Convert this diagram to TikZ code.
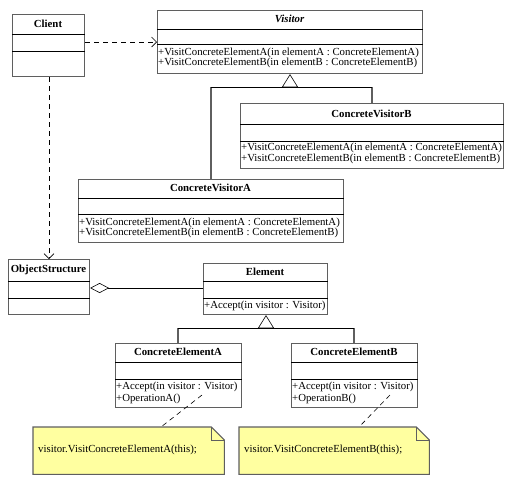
\documentclass[tikz,border=0pt]{standalone}
\usepackage{fontspec}
\setmainfont{Liberation Serif}
\usetikzlibrary{arrows.meta}
\definecolor{boxline}{RGB}{95,95,95}
\definecolor{notefill}{RGB}{255,255,160}
\tikzset{
  classbox/.style={draw=boxline, line width=1.1pt, fill=white, anchor=north west, inner sep=0pt},
  divider/.style={draw=black, line width=0.5pt},
  ctitle/.style={font=\fontsize{10.8}{10.8}\selectfont\bfseries, inner sep=0pt},
  cops/.style={font=\fontsize{10.8}{10.8}\selectfont, anchor=west, inner sep=0pt},
  notebox/.style={anchor=north west, inner sep=0pt},
  noteshape/.style={draw=boxline, line width=1.1pt, fill=notefill},
  dep/.style={dashed, dash pattern=on 5pt off 4pt, line width=0.6pt, -{Straight Barb[length=5pt,width=10pt]}},
  notelink/.style={dashed, dash pattern=on 5pt off 4pt, line width=0.6pt},
  vline/.style={draw=boxline, line width=1.1pt},
  hline/.style={draw=black, line width=0.6pt},
  gen/.style={line width=0.6pt, -{Triangle[open,length=13pt,width=16pt]}},
  agg/.style={line width=0.6pt, -{Diamond[open,length=19pt,width=10pt]}}
}
\begin{document}
\begin{tikzpicture}[x=1pt,y=-1pt]
\useasboundingbox (0,0) rectangle (514,483);

% Client
\node[classbox, minimum width=72pt, minimum height=62pt] (client) at (12,14) {};
\draw[divider] (client.west |- 0,34) -- (client.east |- 0,34);
\draw[divider] (client.west |- 0,51) -- (client.east |- 0,51);
\node[ctitle] (clientT) at (48,24) {Client};

% Visitor
\node[classbox, minimum width=265pt, minimum height=63pt] (visitor) at (157,10) {};
\draw[divider] (visitor.west |- 0,29) -- (visitor.east |- 0,29);
\draw[divider] (visitor.west |- 0,44) -- (visitor.east |- 0,44);
\node[ctitle, font=\fontsize{10.8}{10.8}\selectfont\bfseries\itshape] (visitorT) at (289.5,19) {Visitor};
\node[cops] (visitorO1) at (158,53) {+VisitConcreteElementA(in elementA : ConcreteElementA)};
\node[cops] (visitorO2) at (158,63) {+VisitConcreteElementB(in elementB : ConcreteElementB)};

% ConcreteVisitorB
\node[classbox, minimum width=263pt, minimum height=65pt] (cvb) at (240,103) {};
\draw[divider] (cvb.west |- 0,124) -- (cvb.east |- 0,124);
\draw[divider] (cvb.west |- 0,141) -- (cvb.east |- 0,141);
\node[ctitle] (cvbT) at (371.5,114) {ConcreteVisitorB};
\node[cops] (cvbO1) at (241,148) {+VisitConcreteElementA(in elementA : ConcreteElementA)};
\node[cops] (cvbO2) at (241,159) {+VisitConcreteElementB(in elementB : ConcreteElementB)};

% ConcreteVisitorA
\node[classbox, minimum width=265pt, minimum height=63pt] (cva) at (78,179) {};
\draw[divider] (cva.west |- 0,198) -- (cva.east |- 0,198);
\draw[divider] (cva.west |- 0,214) -- (cva.east |- 0,214);
\node[ctitle] (cvaT) at (210.5,188) {ConcreteVisitorA};
\node[cops] (cvaO1) at (79,223) {+VisitConcreteElementA(in elementA : ConcreteElementA)};
\node[cops] (cvaO2) at (79,233) {+VisitConcreteElementB(in elementB : ConcreteElementB)};

% ObjectStructure
\node[classbox, minimum width=81pt, minimum height=55pt] (os) at (8,259) {};
\draw[divider] (os.west |- 0,281) -- (os.east |- 0,281);
\draw[divider] (os.west |- 0,298) -- (os.east |- 0,298);
\node[ctitle] (osT) at (48.5,270) {ObjectStructure};

% Element
\node[classbox, minimum width=124pt, minimum height=51pt] (element) at (203,263) {};
\draw[divider] (element.west |- 0,281) -- (element.east |- 0,281);
\draw[divider] (element.west |- 0,298) -- (element.east |- 0,298);
\node[ctitle] (elementT) at (265,272) {Element};
\node[cops] (elementO1) at (204,306) {+Accept(in visitor : Visitor)};

% ConcreteElementA
\node[classbox, minimum width=126pt, minimum height=64pt] (cea) at (115,343) {};
\draw[divider] (cea.west |- 0,362) -- (cea.east |- 0,362);
\draw[divider] (cea.west |- 0,379) -- (cea.east |- 0,379);
\node[ctitle] (ceaT) at (178,352) {ConcreteElementA};
\node[cops] (ceaO1) at (116,387) {+Accept(in visitor : Visitor)};
\node[cops] (ceaO2) at (116,399) {+OperationA()};

% ConcreteElementB
\node[classbox, minimum width=126pt, minimum height=64pt] (ceb) at (291,343) {};
\draw[divider] (ceb.west |- 0,362) -- (ceb.east |- 0,362);
\draw[divider] (ceb.west |- 0,379) -- (ceb.east |- 0,379);
\node[ctitle] (cebT) at (354,352) {ConcreteElementB};
\node[cops] (cebO1) at (292,387) {+Accept(in visitor : Visitor)};
\node[cops] (cebO2) at (292,399) {+OperationB()};

% Notes
\node[notebox, minimum width=191pt, minimum height=47pt] (noteA) at (33,427) {};
\draw[noteshape] (noteA.north west) -- ([xshift=-13pt]noteA.north east) -- ([yshift=-13pt]noteA.north east) -- (noteA.south east) -- (noteA.south west) -- cycle;
\draw[draw=boxline, line width=0.8pt] ([xshift=-13pt]noteA.north east) -- ([xshift=-13pt,yshift=-13pt]noteA.north east) -- ([yshift=-13pt]noteA.north east);
\node[cops] (noteAT) at (38,450) {visitor.VisitConcreteElementA(this);};

\node[notebox, minimum width=190pt, minimum height=47pt] (noteB) at (239,427) {};
\draw[noteshape] (noteB.north west) -- ([xshift=-13pt]noteB.north east) -- ([yshift=-13pt]noteB.north east) -- (noteB.south east) -- (noteB.south west) -- cycle;
\draw[draw=boxline, line width=0.8pt] ([xshift=-13pt]noteB.north east) -- ([xshift=-13pt,yshift=-13pt]noteB.north east) -- ([yshift=-13pt]noteB.north east);
\node[cops] (noteBT) at (244,450) {visitor.VisitConcreteElementB(this);};

% Dependencies
\draw[dep] (client.east |- 0,42) -- (visitor.west |- 0,42);
\draw[dep] (client.south -| 49,0) -- (os.north -| 49,0);

% Generalization Visitor
\coordinate (vL) at (211,87);
\coordinate (vR) at (372,87);
\coordinate (vJ) at (290,87);
\draw[vline] (cva.north -| vL) -- (vL);
\draw[vline] (cvb.north -| vR) -- (vR);
\draw[hline] (vL) -- (vR);
\draw[gen] (vJ) -- (visitor.south -| vJ);

% Generalization Element
\coordinate (eL) at (178,328);
\coordinate (eR) at (354,328);
\coordinate (eJ) at (266,328);
\draw[vline] (cea.north -| eL) -- (eL);
\draw[vline] (ceb.north -| eR) -- (eR);
\draw[hline] (eL) -- (eR);
\draw[gen] (eJ) -- (element.south -| eJ);

% Aggregation
\draw[agg] (element.west |- 0,288) -- (os.east |- 0,288);

% Note links
\coordinate (nA1) at (202,395);
\coordinate (nA2) at (161,427);
\coordinate (nB1) at (390,395);
\coordinate (nB2) at (359,427);
\draw[notelink] (nA1) -- (noteA.north -| nA2);
\draw[notelink] (nB1) -- (noteB.north -| nB2);
\end{tikzpicture}
\end{document}
